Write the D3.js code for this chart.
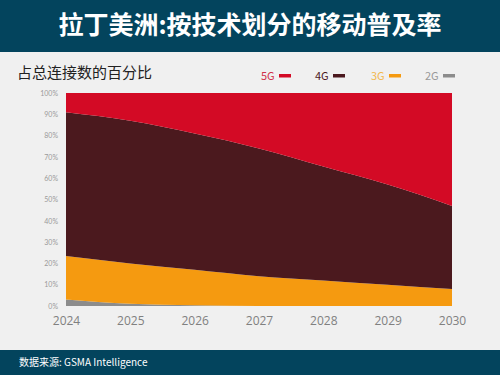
<!DOCTYPE html>
<html>
<head>
<meta charset="utf-8">
<script src="https://cdn.jsdelivr.net/npm/d3@7"></script>
<style>
  body { margin: 0; background: #f0f0f0; }
  svg { display: block; font-family: "Noto Sans CJK SC", "Noto Sans", sans-serif; }
</style>
</head>
<body>
<svg width="500" height="375"></svg>
<script>
let years = [2024, 2025, 2026, 2027, 2028, 2029, 2030]
let series = ["2G", "3G", "4G", "5G"]
let g2 = [3, 1, 0.3, 0, 0, 0, 0]
let g3 = [20.5, 19, 16.7, 14, 12, 10, 8]
let g4 = [67.5, 67, 64, 60, 53.5, 47, 39]
let g5 = [9, 13, 19, 26, 34.5, 43, 53]
let yTicks = [0, 10, 20, 30, 40, 50, 60, 70, 80, 90, 100]

let colors = { "5G": "#d30a25", "4G": "#4b191e", "3G": "#f59a10", "2G": "#8c8c8c" }
let legendText = { "5G": "#d0324a", "4G": "#4b191e", "3G": "#f2b94f", "2G": "#999999" }

let rows = years.map((y, i) => ({ year: y, "2G": g2[i], "3G": g3[i], "4G": g4[i], "5G": g5[i] }))

let margin = { top: 93, right: 48, bottom: 69, left: 66 },
    width = 500 - margin.left - margin.right,
    height = 375 - margin.top - margin.bottom

let svg = d3.select("svg")

svg.append("rect").attr("width", 500).attr("height", 375).attr("fill", "#f0f0f0")

// header
svg.append("rect").attr("width", 500).attr("height", 52).attr("fill", "#03445d")
svg.append("text")
    .attr("x", 250).attr("y", 34)
    .attr("text-anchor", "middle")
    .attr("fill", "#fff")
    .style("font-size", "25px")
    .style("font-weight", "bold")
    .text("拉丁美洲:按技术划分的移动普及率")

// footer
svg.append("rect").attr("y", 350).attr("width", 500).attr("height", 25).attr("fill", "#03445d")
svg.append("text")
    .attr("x", 19).attr("y", 366)
    .attr("fill", "#fff")
    .style("font-size", "10px")
    .text("数据来源: GSMA Intelligence")

svg.append("text")
    .attr("x", 17).attr("y", 78)
    .attr("fill", "#222")
    .style("font-size", "15px")
    .text("占总连接数的百分比")

let x = d3.scaleLinear().domain(d3.extent(years)).range([0, width])
let y = d3.scaleLinear().domain([0, 100]).range([height, 0])

let stack = d3.stack().keys(series)
let layers = stack(rows)

let area = d3.area()
    .curve(d3.curveMonotoneX)
    .x(d => x(d.data.year))
    .y0(d => y(d[0]))
    .y1(d => y(d[1]))

let focus = svg.append("g")
    .attr("transform", "translate(" + margin.left + "," + margin.top + ")")

focus.selectAll(".layer")
    .data(layers)
    .enter().append("path")
    .attr("class", "layer")
    .attr("d", area)
    .attr("fill", d => colors[d.key])

let yAxis = d3.axisLeft(y).tickValues(yTicks).tickFormat(d => d + "%").tickSize(0).tickPadding(8)
let gy = focus.append("g").call(yAxis)
gy.select(".domain").remove()
gy.selectAll("text").attr("fill", "#9a9a9a").style("font-size", "7px").style("font-family", "Lato, 'Noto Sans', sans-serif")

let xAxis = d3.axisBottom(x).tickValues(years).tickFormat(d3.format("d")).tickSize(0).tickPadding(10)
let gx = focus.append("g").attr("transform", "translate(0," + height + ")").call(xAxis)
gx.select(".domain").remove()
gx.selectAll("text").attr("fill", "#808080").style("font-size", "12px").style("font-family", "'Open Sans', 'Noto Sans', sans-serif")

// legend
let legendOrder = ["5G", "4G", "3G", "2G"]
let legendX = [261, 315, 371, 425]
let legend = svg.append("g")
legendOrder.forEach((k, i) => {
    legend.append("text")
        .attr("x", legendX[i]).attr("y", 80)
        .attr("fill", legendText[k])
        .style("font-size", "11px")
        .text(k)
    legend.append("rect")
        .attr("x", legendX[i] + 18).attr("y", 74)
        .attr("width", 12).attr("height", 3.5)
        .attr("fill", colors[k])
})
</script>
</body>
</html>
